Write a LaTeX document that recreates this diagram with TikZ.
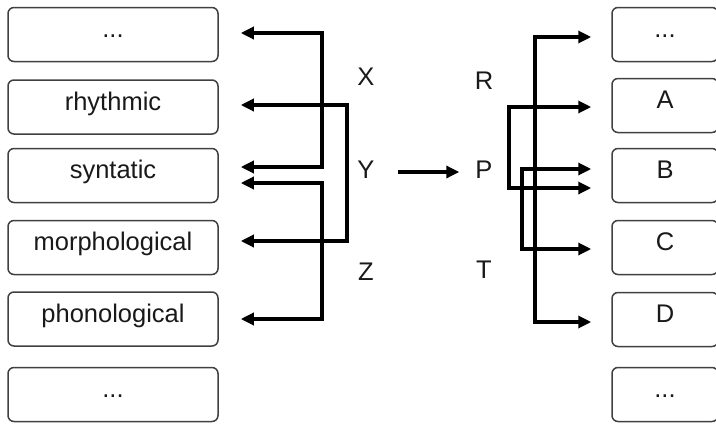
\documentclass[tikz,border=0pt]{standalone}
\usepackage{fontspec}
\setmainfont{Liberation Sans}
\usetikzlibrary{arrows.meta}
\begin{document}
\begin{tikzpicture}[x=1pt,y=-1pt,
  every node/.style={font=\fontsize{25.5}{30}\selectfont,text=black!90},
  box/.style={draw=black!75,line width=1.5pt,rounded corners=6pt,
    minimum width=210pt,minimum height=54pt,
    text height=19pt,text depth=13pt,inner sep=0pt},
  rbox/.style={box,minimum width=106pt},
  tag/.style={inner sep=0pt},
  tip/.tip={Triangle[length=13pt,width=12pt]},
  link/.style={line width=3.2pt,-tip},
  both/.style={line width=3.2pt,tip-tip}]
\useasboundingbox (0,0) rectangle (716,424);
% left boxes
\node [box] (ltop) at (113,34.5) {...};
\node [box] (lr) at (113,107) {rhythmic};
\node [box] (ls) at (113,175.5) {syntatic};
\node [box] (lm) at (113,247.5) {morphological};
\node [box] (lp) at (113,319) {phonological};
\node [box] (lbot) at (113,394.5) {...};
% right boxes
\node [rbox] (rtop) at (665,34.5) {...};
\node [rbox] (ra) at (665,105.5) {A};
\node [rbox] (rb) at (665,175.5) {B};
\node [rbox] (rc) at (665,247.5) {C};
\node [rbox] (rd) at (665,319.5) {D};
\node [rbox] (rbot) at (665,394.5) {...};
% letters
\node [tag] (X) at (366,77) {X};
\node [tag] (Y) at (366,170) {Y};
\node [tag] (Z) at (366,272) {Z};
\node [tag] (R) at (484,81) {R};
\node [tag] (P) at (484,170) {P};
\node [tag] (T) at (484,270) {T};
% left corners
\coordinate (x1) at (322,33);
\coordinate (x2) at (322,167);
\coordinate (y1) at (347,105);
\coordinate (y2) at (347,241);
\coordinate (z1) at (322,183);
\coordinate (z2) at (322,319);
% right corners
\coordinate (a1) at (535,37);
\coordinate (a2) at (535,322);
\coordinate (b1) at (509,107);
\coordinate (b2) at (509,188);
\coordinate (c1) at (522,169);
\coordinate (c2) at (522,249);
% left links
\draw [both,shorten <=22pt,shorten >=22pt] (ltop.east |- x1) -- (x1) -- (x2) -- (ls.east |- x2);
\draw [both,shorten <=22pt,shorten >=22pt] (lr.east |- y1) -- (y1) -- (y2) -- (lm.east |- y2);
\draw [both,shorten <=22pt,shorten >=22pt] (ls.east |- z1) -- (z1) -- (z2) -- (lp.east |- z2);
% middle arrow
\draw [link,shorten <=23pt,shorten >=16pt] (Y.east |- 0,172) -- (P.west |- 0,172);
% right links
\draw [both,shorten <=20pt,shorten >=20pt] (rtop.west |- a1) -- (a1) -- (a2) -- (rd.west |- a2);
\draw [both,shorten <=20pt,shorten >=20pt] (ra.west |- b1) -- (b1) -- (b2) -- (rb.west |- b2);
\draw [both,shorten <=20pt,shorten >=20pt] (rb.west |- c1) -- (c1) -- (c2) -- (rc.west |- c2);
\end{tikzpicture}
\end{document}
